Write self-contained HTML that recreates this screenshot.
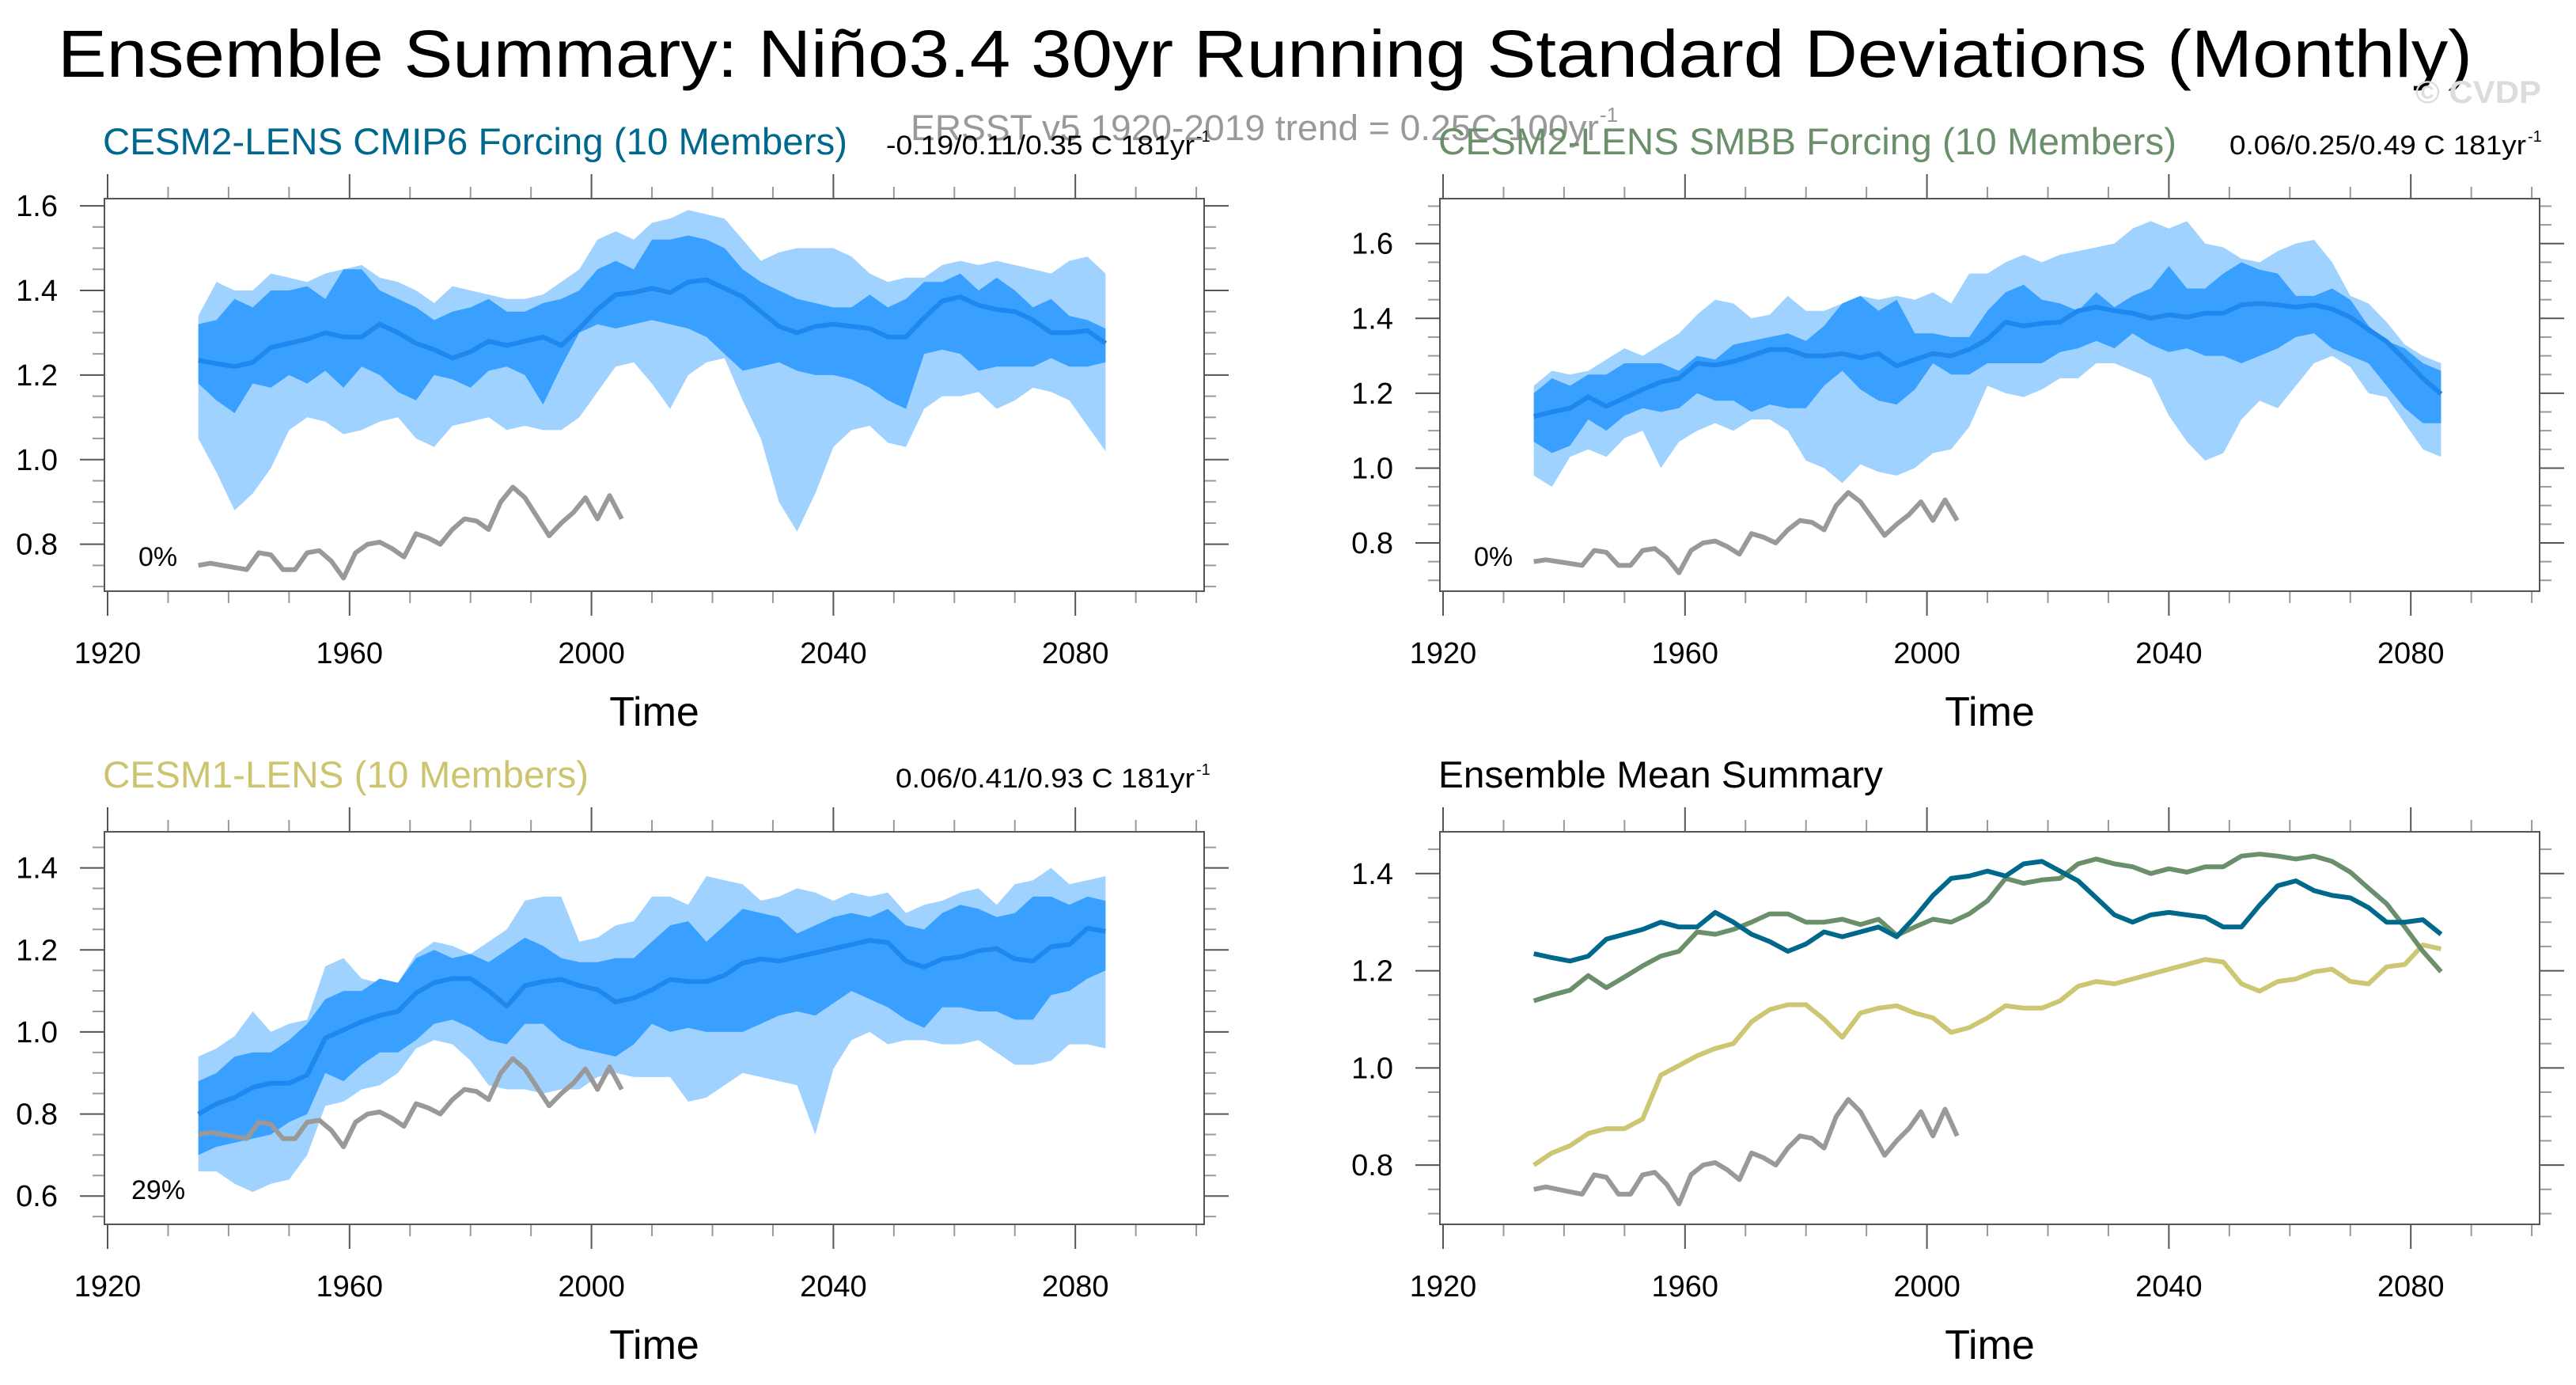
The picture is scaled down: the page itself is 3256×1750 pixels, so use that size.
<!DOCTYPE html>
<html><head><meta charset="utf-8">
<style>
html,body{margin:0;padding:0;background:#fff;}
svg{display:block;font-family:"Liberation Sans",Arial,sans-serif;}
</style></head>
<body>
<svg id="fig" width="3256" height="1750" viewBox="0 0 3256 1750" xmlns="http://www.w3.org/2000/svg">
<text x="73" y="97" font-size="84" textLength="3052" lengthAdjust="spacingAndGlyphs">Ensemble Summary: Niño3.4 30yr Running Standard Deviations (Monthly)</text>
<text x="3053" y="130" font-size="40" font-weight="bold" fill="#dcdcdc" textLength="159" lengthAdjust="spacingAndGlyphs">© CVDP</text>
<text x="1151" y="177" font-size="45" fill="#999" textLength="870" lengthAdjust="spacingAndGlyphs">ERSST v5 1920-2019 trend = 0.25C 100yr</text>
<text x="2022" y="154" font-size="26" fill="#999">-1</text>
<g id="panels"></g>
</svg>
<script>
// ---- categories ----
const years = [1935,1938,1941,1944,1947,1950,1953,1956,1959,1962,1965,1968,1971,1974,1977,1980,1983,1986,1989,1992,1995,1998,2001,2004,2007,2010,2013,2016,2019,2022,2025,2028,2031,2034,2037,2040,2043,2046,2049,2052,2055,2058,2061,2064,2067,2070,2073,2076,2079,2082,2085];
const obsYears = [1935,1937,1939,1941,1943,1945,1947,1949,1951,1953,1955,1957,1959,1961,1963,1965,1967,1969,1971,1973,1975,1977,1979,1981,1983,1985,1987,1989,1991,1993,1995,1997,1999,2001,2003,2005];
const obsValues = [0.75,0.755,0.75,0.745,0.74,0.78,0.775,0.74,0.74,0.78,0.785,0.76,0.72,0.78,0.80,0.805,0.79,0.77,0.825,0.815,0.80,0.835,0.86,0.855,0.835,0.90,0.935,0.91,0.865,0.82,0.85,0.875,0.91,0.86,0.915,0.86];

// CESM2 CMIP6
const cmip6Mean = [1.235,1.227,1.22,1.23,1.265,1.275,1.285,1.30,1.29,1.29,1.32,1.30,1.275,1.26,1.24,1.255,1.28,1.27,1.28,1.29,1.27,1.31,1.355,1.39,1.395,1.405,1.395,1.42,1.425,1.405,1.385,1.35,1.315,1.30,1.315,1.32,1.315,1.31,1.29,1.29,1.335,1.375,1.385,1.365,1.355,1.35,1.33,1.30,1.30,1.305,1.275];
const cmip6InHi = [1.32,1.33,1.38,1.36,1.40,1.40,1.41,1.38,1.45,1.45,1.40,1.38,1.36,1.33,1.35,1.36,1.38,1.35,1.35,1.37,1.38,1.40,1.45,1.47,1.45,1.52,1.52,1.53,1.52,1.50,1.45,1.42,1.40,1.38,1.37,1.36,1.36,1.39,1.36,1.38,1.42,1.42,1.44,1.40,1.43,1.40,1.36,1.38,1.34,1.33,1.31];
const cmip6InLo = [1.18,1.14,1.11,1.18,1.17,1.20,1.18,1.21,1.17,1.22,1.20,1.16,1.14,1.20,1.19,1.17,1.21,1.22,1.20,1.13,1.22,1.30,1.32,1.31,1.32,1.33,1.32,1.31,1.29,1.25,1.21,1.22,1.23,1.21,1.20,1.20,1.19,1.17,1.14,1.12,1.25,1.26,1.25,1.21,1.22,1.22,1.22,1.24,1.22,1.22,1.23];
const cmip6OutHi = [1.34,1.42,1.40,1.40,1.44,1.43,1.42,1.44,1.45,1.46,1.43,1.42,1.40,1.37,1.41,1.40,1.39,1.38,1.38,1.39,1.42,1.45,1.52,1.54,1.52,1.56,1.57,1.59,1.58,1.57,1.52,1.47,1.49,1.50,1.50,1.50,1.48,1.44,1.42,1.43,1.43,1.46,1.47,1.46,1.47,1.46,1.45,1.44,1.47,1.48,1.44];
const cmip6OutLo = [1.05,0.97,0.88,0.92,0.98,1.07,1.10,1.09,1.06,1.07,1.09,1.10,1.05,1.03,1.08,1.09,1.10,1.07,1.08,1.07,1.07,1.10,1.16,1.22,1.23,1.18,1.12,1.20,1.23,1.24,1.14,1.05,0.90,0.83,0.92,1.03,1.07,1.08,1.04,1.03,1.12,1.15,1.15,1.16,1.12,1.14,1.17,1.16,1.14,1.08,1.02];

// CESM2 SMBB
const smbbMean = [1.138,1.15,1.16,1.19,1.165,1.187,1.21,1.23,1.24,1.28,1.275,1.285,1.30,1.317,1.317,1.30,1.30,1.306,1.295,1.306,1.273,1.29,1.306,1.30,1.317,1.344,1.39,1.38,1.387,1.39,1.42,1.43,1.42,1.414,1.40,1.41,1.403,1.414,1.414,1.436,1.44,1.436,1.43,1.436,1.425,1.403,1.37,1.338,1.29,1.24,1.198];
const smbbInHi = [1.20,1.24,1.22,1.25,1.25,1.28,1.28,1.28,1.26,1.30,1.29,1.33,1.34,1.35,1.36,1.34,1.38,1.44,1.46,1.42,1.45,1.36,1.36,1.35,1.35,1.42,1.47,1.49,1.45,1.44,1.42,1.47,1.43,1.46,1.48,1.54,1.48,1.48,1.52,1.55,1.53,1.52,1.46,1.46,1.48,1.45,1.38,1.34,1.32,1.28,1.26];
const smbbInLo = [1.07,1.04,1.06,1.13,1.10,1.14,1.16,1.15,1.16,1.20,1.18,1.18,1.15,1.17,1.16,1.16,1.22,1.26,1.21,1.18,1.17,1.21,1.28,1.25,1.25,1.28,1.28,1.28,1.28,1.31,1.32,1.34,1.32,1.36,1.33,1.31,1.32,1.30,1.30,1.28,1.30,1.32,1.35,1.36,1.32,1.30,1.28,1.22,1.16,1.12,1.12];
const smbbOutHi = [1.22,1.26,1.25,1.26,1.29,1.32,1.30,1.33,1.36,1.41,1.45,1.44,1.40,1.41,1.46,1.42,1.42,1.44,1.46,1.45,1.46,1.45,1.47,1.44,1.52,1.52,1.55,1.57,1.55,1.57,1.58,1.59,1.60,1.64,1.66,1.64,1.66,1.60,1.59,1.56,1.55,1.58,1.60,1.61,1.55,1.46,1.44,1.39,1.33,1.30,1.28];
const smbbOutLo = [0.98,0.95,1.03,1.05,1.03,1.08,1.10,1.00,1.07,1.10,1.12,1.10,1.13,1.13,1.10,1.02,1.00,0.96,1.01,0.99,0.98,1.00,1.04,1.05,1.11,1.22,1.20,1.19,1.21,1.24,1.24,1.28,1.28,1.26,1.24,1.14,1.07,1.02,1.04,1.13,1.18,1.16,1.22,1.28,1.30,1.27,1.20,1.19,1.12,1.05,1.03];

// CESM1
const c1Mean = [0.80,0.825,0.84,0.865,0.875,0.875,0.895,0.985,1.005,1.025,1.04,1.05,1.095,1.12,1.13,1.13,1.10,1.063,1.113,1.123,1.128,1.113,1.103,1.073,1.083,1.103,1.128,1.123,1.123,1.138,1.168,1.178,1.173,1.183,1.193,1.203,1.213,1.223,1.218,1.173,1.158,1.178,1.183,1.198,1.203,1.178,1.173,1.208,1.213,1.253,1.245];
const c1InHi = [0.88,0.90,0.94,0.95,0.95,0.98,1.02,1.08,1.10,1.10,1.13,1.12,1.18,1.20,1.18,1.19,1.17,1.20,1.23,1.21,1.18,1.17,1.17,1.18,1.18,1.22,1.26,1.27,1.22,1.26,1.30,1.29,1.28,1.24,1.26,1.28,1.29,1.28,1.30,1.26,1.25,1.29,1.31,1.30,1.28,1.29,1.33,1.33,1.31,1.33,1.32];
const c1InLo = [0.70,0.72,0.73,0.74,0.75,0.78,0.80,0.90,0.88,0.92,0.95,0.95,0.98,1.02,1.03,1.01,0.98,0.97,1.02,1.02,0.98,0.96,0.95,0.94,0.97,1.02,1.00,1.01,1.00,1.00,1.00,1.02,1.04,1.05,1.04,1.07,1.10,1.08,1.06,1.03,1.01,1.06,1.06,1.05,1.05,1.03,1.03,1.09,1.10,1.13,1.15];
const c1OutHi = [0.94,0.96,0.99,1.05,1.00,1.02,1.03,1.16,1.18,1.13,1.12,1.12,1.19,1.22,1.21,1.19,1.22,1.25,1.32,1.33,1.33,1.22,1.23,1.26,1.27,1.33,1.33,1.31,1.38,1.37,1.36,1.32,1.33,1.35,1.34,1.32,1.34,1.33,1.34,1.29,1.31,1.32,1.34,1.35,1.31,1.36,1.37,1.40,1.36,1.37,1.38];
const c1OutLo = [0.66,0.66,0.63,0.61,0.63,0.64,0.70,0.82,0.83,0.86,0.87,0.90,0.96,0.98,0.97,0.93,0.87,0.86,0.86,0.85,0.86,0.86,0.89,0.90,0.89,0.89,0.89,0.83,0.84,0.87,0.90,0.89,0.88,0.87,0.75,0.91,0.98,1.00,0.97,0.98,0.98,0.97,0.97,0.98,0.95,0.92,0.92,0.93,0.97,0.97,0.96];

// tick labels
const xTickLabels = ["1920","1960","2000","2040","2080"];
const yTicksP1 = ["0.8","1.0","1.2","1.4","1.6"];
const yTicksP2 = ["0.8","1.0","1.2","1.4","1.6"];
const yTicksP3 = ["0.6","0.8","1.0","1.2","1.4"];
const yTicksP4 = ["0.8","1.0","1.2","1.4"];

const NS = "http://www.w3.org/2000/svg";
const root = document.getElementById("panels");
function mk(tag, attrs, parent){const e=document.createElementNS(NS,tag);for(const k in attrs)e.setAttribute(k,attrs[k]);(parent||root).appendChild(e);return e;}

function makeAxes(dx, top, bottom, ymin, ymax){
  const left=132+dx, right=1522+dx;
  const x = yr => 136+dx+(yr-1920)*7.645;
  const y = v => top+(ymax-v)/(ymax-ymin)*(bottom-top);
  return {left,right,top,bottom,x,y,ymin,ymax,dx};
}

function drawFrame(ax, name, yLabels, pctText){
  const g = mk("g",{});
  
  
  for(let yr=1920; yr<=2100; yr+=10){
    const major = (yr%40===0);
    const len = major?31:15, X=ax.x(yr);
    mk("line",{x1:X,x2:X,y1:ax.top,y2:ax.top-len,stroke:major?"#555":"#999","stroke-width":2},g);
    mk("line",{x1:X,x2:X,y1:ax.bottom,y2:ax.bottom+len,stroke:major?"#555":"#999","stroke-width":2},g);
  }
  xTickLabels.forEach(lbl=>{
    const t = mk("text",{x:ax.x(+lbl),y:ax.bottom+91,"font-size":38,"text-anchor":"middle"},g);
    
    
    t.textContent=lbl;
  });
  for(let k=Math.ceil(ax.ymin/0.05); k*0.05<=ax.ymax; k++){
    const v=k*0.05, Y=ax.y(v);
    const major = (k%4===0);
    const len = major?31:15;
    mk("line",{x1:ax.left,x2:ax.left-len,y1:Y,y2:Y,stroke:major?"#555":"#999","stroke-width":2},g);
    mk("line",{x1:ax.right,x2:ax.right+len,y1:Y,y2:Y,stroke:major?"#555":"#999","stroke-width":2},g);
  }
  yLabels.forEach(lbl=>{
    const t = mk("text",{x:ax.left-59,y:ax.y(+lbl)+13,"font-size":38,"text-anchor":"end"},g);
    
    
    t.textContent=lbl;
  });
  const box = mk("rect",{x:ax.left,y:ax.top,width:ax.right-ax.left,height:ax.bottom-ax.top,fill:"none",stroke:"#555","stroke-width":2},g);
  
  
  const xt = mk("text",{x:(ax.left+ax.right)/2,y:ax.bottom+170,"font-size":52,"text-anchor":"middle"},g);
  
  
  xt.textContent="Time";
  if(pctText){
    const p = mk("text",{x:ax.left+(pctText.length>2?34:43),y:ax.bottom-32,"font-size":34},g);
    
    
    p.textContent=pctText;
  }
}

function bandPath(ax, hi, lo){
  let d="";
  years.forEach((yr,i)=>{d+=(i?"L":"M")+ax.x(yr).toFixed(1)+","+ax.y(hi[i]).toFixed(1);});
  for(let i=years.length-1;i>=0;i--) d+="L"+ax.x(years[i]).toFixed(1)+","+ax.y(lo[i]).toFixed(1);
  return d+"Z";
}
function linePath(ax, xs, vs){
  return xs.map((yr,i)=>(i?"L":"M")+ax.x(yr).toFixed(1)+","+ax.y(vs[i]).toFixed(1)).join("");
}

function drawTitle(ax, title, color, titleLen, stats, statsStart, statsLen, name){
  const t = mk("text",{x:ax.left-2,y:ax.top-56,"font-size":47,fill:color,textLength:titleLen,lengthAdjust:"spacingAndGlyphs"});
  
  
  t.textContent=title;
  if(stats){
    const s = mk("text",{x:statsStart,y:ax.top-56,"font-size":34,textLength:statsLen,lengthAdjust:"spacingAndGlyphs"});
    
    
    s.textContent=stats;
    const sp = mk("text",{x:statsStart+statsLen+2,y:ax.top-72,"font-size":20});
    
    
    sp.textContent="-1";
  }
}

function ensemblePanel(ax, name, title, tcolor, tlen, stats, sStart, sLen, yl, pct, mean, inHi, inLo, outHi, outLo){
  drawTitle(ax,title,tcolor,tlen,stats,sStart,sLen,name);
  const g = mk("g",{});
  
  
  const o = mk("path",{d:bandPath(ax,outHi,outLo),fill:"#a0d2ff"},g);
  
  
  const i = mk("path",{d:bandPath(ax,inHi,inLo),fill:"#3aa0ff"},g);
  
  
  const m = mk("path",{d:linePath(ax,years,mean),fill:"none",stroke:"#1e88ee","stroke-width":6,"stroke-linejoin":"round"},g);
  
  
  const ob = mk("path",{d:linePath(ax,obsYears,obsValues),fill:"none",stroke:"#999","stroke-width":6,"stroke-linejoin":"round"},g);
  
  
  drawFrame(ax,name,yl,pct);
}

const a1 = makeAxes(0,251,747,0.689,1.617);
const a2 = makeAxes(1688,251,747,0.671,1.72);
const a3 = makeAxes(0,1051,1547,0.531,1.488);
const a4 = makeAxes(1688,1051,1547,0.678,1.486);

ensemblePanel(a1,"cmip6-panel","CESM2-LENS CMIP6 Forcing (10 Members)","#00688f",941,"-0.19/0.11/0.35 C 181yr",1120,390,yTicksP1,"0%",cmip6Mean,cmip6InHi,cmip6InLo,cmip6OutHi,cmip6OutLo);
ensemblePanel(a2,"smbb-panel","CESM2-LENS SMBB Forcing (10 Members)","#6a8f6a",933,"0.06/0.25/0.49 C 181yr",2818,375,yTicksP2,"0%",smbbMean,smbbInHi,smbbInLo,smbbOutHi,smbbOutLo);
ensemblePanel(a3,"cesm1-panel","CESM1-LENS (10 Members)","#ccc46f",614,"0.06/0.41/0.93 C 181yr",1132,378,yTicksP3,"29%",c1Mean,c1InHi,c1InLo,c1OutHi,c1OutLo);

drawTitle(a4,"Ensemble Mean Summary","#000",562,null,0,0,"summary-panel");
[[c1Mean,"#cdc673","cesm1-mean-line"],[smbbMean,"#6a8f6a","smbb-mean-line"],[cmip6Mean,"#00688b","cmip6-mean-line"]].forEach(s=>{
  const p = mk("path",{d:linePath(a4,years,s[0]),fill:"none",stroke:s[1],"stroke-width":6,"stroke-linejoin":"round"});
  
  
});
const ob4 = mk("path",{d:linePath(a4,obsYears,obsValues),fill:"none",stroke:"#999","stroke-width":6,"stroke-linejoin":"round"});


drawFrame(a4,"summary-panel",yTicksP4,null);
</script>
</body></html>
